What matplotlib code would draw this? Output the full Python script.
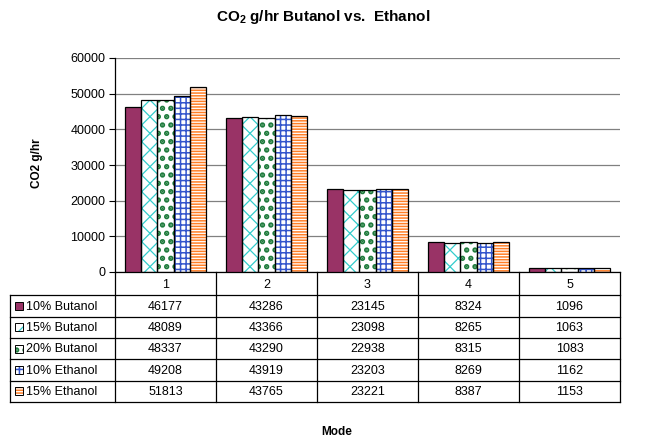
import matplotlib
matplotlib.use("Agg")
import matplotlib.pyplot as plt
import numpy as np
from matplotlib.patches import Rectangle
from matplotlib.lines import Line2D

plt.rcParams['font.family'] = ['Liberation Sans', 'DejaVu Sans']
plt.rcParams['mathtext.fontset'] = 'custom'
plt.rcParams['mathtext.rm'] = 'Liberation Sans:bold'
plt.rcParams['mathtext.bf'] = 'Liberation Sans:bold'

modes = ["1", "2", "3", "4", "5"]
series = ["10% Butanol", "15% Butanol", "20% Butanol", "10% Ethanol", "15% Ethanol"]
but10 = [46177, 43286, 23145, 8324, 1096]
but15 = [48089, 43366, 23098, 8265, 1063]
but20 = [48337, 43290, 22938, 8315, 1083]
eth10 = [49208, 43919, 23203, 8269, 1162]
eth15 = [51813, 43765, 23221, 8387, 1153]
values = [but10, but15, but20, eth10, eth15]
yticks = [0, 10000, 20000, 30000, 40000, 50000, 60000]

# styles: (face, hatch, hatch colour, hatch linewidth)
styles = [
    ("#993366", None, None, 1.0),
    ("white", "xx", "#33CCCC", 0.9),
    ("white", "..", "#1E7B3C", 2.6),
    ("white", "+++", "#3355CC", 1.1),
    ("white", "------", "#FF7F27", 1.1),
]

W, H = 650, 440
fig = plt.figure(figsize=(W / 100, H / 100), dpi=100)
L, R, T, B = 115, 620, 58, 272
ax = fig.add_axes([L / W, 1 - B / H, (R - L) / W, (B - T) / H])

n = len(series)
bw = 0.16
x = np.arange(len(modes))
for i, (vals, (fc, hatch, hc, hlw)) in enumerate(zip(values, styles)):
    pos = x + (i - (n - 1) / 2) * bw
    plt.rcParams['hatch.linewidth'] = hlw
    if hatch:
        ax.bar(pos, vals, bw, color="white", edgecolor=hc, hatch=hatch, linewidth=0, zorder=2)
        ax.bar(pos, vals, bw, facecolor="none", edgecolor="black", linewidth=0.9, zorder=3)
    else:
        ax.bar(pos, vals, bw, color=fc, edgecolor="black", linewidth=0.9, zorder=3)

ax.set_xlim(-0.5, len(modes) - 0.5)
ax.set_ylim(0, 60000)
ax.set_yticks(yticks)
ax.set_yticklabels([str(v) for v in yticks], fontsize=9)
ax.tick_params(axis='y', length=4, width=0.8, direction='out', pad=3)
ax.set_xticks([])
ax.grid(axis='y', color='#808080', linewidth=0.9, zorder=0)
for s in ['top', 'right']:
    ax.spines[s].set_visible(False)
ax.spines['left'].set_linewidth(0.9)
ax.spines['bottom'].set_linewidth(0.9)

# table in pixel coordinates
tax = fig.add_axes([0, 0, 1, 1], zorder=5)
tax.set_xlim(0, W)
tax.set_ylim(H, 0)
tax.axis('off')
tax.patch.set_alpha(0)

cw = (R - L) / len(modes)
head_top, head_bot = B, 295.5
rh = 21.3
lw = 0.9
fs = 9
for j, m in enumerate(modes):
    tax.text(L + cw * (j + 0.5), (head_top + head_bot) / 2 + 1, m, ha='center', va='center', fontsize=fs)
for j in range(len(modes) + 1):
    tax.add_line(Line2D([L + cw * j] * 2, [head_top, head_bot + rh * n], color='black', lw=lw))
tax.add_line(Line2D([10, 10], [head_bot, head_bot + rh * n], color='black', lw=lw))
for r in range(n + 1):
    yy = head_bot + rh * r
    tax.add_line(Line2D([10, R], [yy, yy], color='black', lw=lw))
for r, (name, vals, (fc, hatch, hc, hlw)) in enumerate(zip(series, values, styles)):
    yc = head_bot + rh * (r + 0.5)
    plt.rcParams['hatch.linewidth'] = hlw
    if hatch:
        tax.add_patch(Rectangle((15, yc - 4), 8, 8, facecolor='white', edgecolor=hc,
                                hatch=hatch, lw=0))
        tax.add_patch(Rectangle((15, yc - 4), 8, 8, facecolor='none', edgecolor='black', lw=0.7))
    else:
        tax.add_patch(Rectangle((15, yc - 4), 8, 8, facecolor=fc, edgecolor='black', lw=0.7))
    tax.text(26, yc + 0.5, name, ha='left', va='center', fontsize=fs)
    for j, v in enumerate(vals):
        tax.text(L + cw * (j + 0.5), yc + 0.5, str(v), ha='center', va='center', fontsize=fs)

fig.text(323 / W, 1 - 17 / H, r"CO$_{2}$ g/hr Butanol vs.  Ethanol", ha='center', va='center',
         fontsize=11, fontweight='bold')
fig.text(37 / W, 1 - 163 / H, "CO2 g/hr", rotation=90, ha='center', va='center',
         fontsize=8.5, fontweight='bold')
fig.text(337 / W, 1 - 432 / H, "Mode", ha='center', va='center', fontsize=8.5, fontweight='bold')

fig.savefig("out.png", dpi=100)
